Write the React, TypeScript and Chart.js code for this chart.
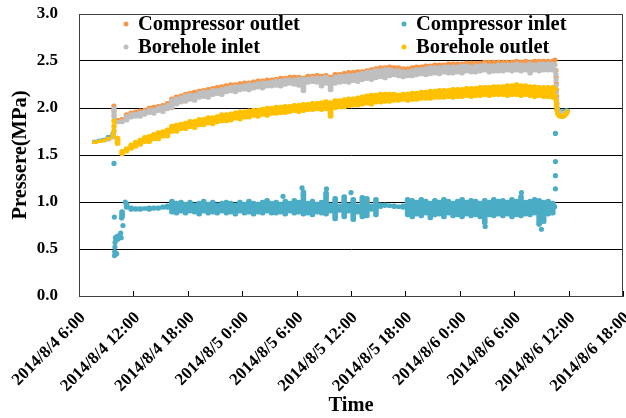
import React, { useEffect, useRef } from 'react';
import { Chart, registerables } from 'chart.js';

Chart.register(...registerables);

// ---------- data ----------
const SERIES_LABELS = ['Compressor outlet', 'Compressor inlet', 'Borehole inlet', 'Borehole outlet'];
const SERIES_COLORS = ['#F79646', '#4BACC6', '#BFBFBF', '#FFC000'];

// x axis: hours counted from 2014/8/4 0:00
const X_TICK_HOURS = [6, 12, 18, 24, 30, 36, 42, 48, 54, 60, 66];
const X_TICK_LABELS = [
  '2014/8/4 6:00', '2014/8/4 12:00', '2014/8/4 18:00', '2014/8/5 0:00',
  '2014/8/5 6:00', '2014/8/5 12:00', '2014/8/5 18:00', '2014/8/6 0:00',
  '2014/8/6 6:00', '2014/8/6 12:00', '2014/8/6 18:00',
];
const Y_TICK_VALUES = [0, 0.5, 1.0, 1.5, 2.0, 2.5, 3.0];
const Y_TICK_LABELS = ['0.0', '0.5', '1.0', '1.5', '2.0', '2.5', '3.0'];

// dense logging summarised per 30-minute window (min / max of the readings),
// first window centred on 2014/8/4 7:45
const WINDOW_START_HOUR = 7.75;
const WINDOW_STEP_HOURS = 0.5;

const compressorOutletMin = [
  1.62, 1.63, 1.64, 1.65, 1.67, 1.85, 1.85, 1.88, 1.91, 1.92,
  1.93, 1.94, 1.96, 1.96, 1.98, 1.98, 2.00, 2.03, 2.06, 2.07,
  2.09, 2.10, 2.10, 2.12, 2.13, 2.13, 2.15, 2.16, 2.16, 2.18,
  2.19, 2.19, 2.20, 2.21, 2.21, 2.22, 2.23, 2.23, 2.24, 2.25,
  2.25, 2.25, 2.26, 2.27, 2.27, 2.27, 2.24, 2.28, 2.29, 2.29,
  2.27, 2.28, 2.25, 2.28, 2.29, 2.30, 2.30, 2.31, 2.31, 2.32,
  2.33, 2.33, 2.34, 2.35, 2.35, 2.36, 2.36, 2.36, 2.35, 2.36,
  2.36, 2.37, 2.37, 2.37, 2.38, 2.38, 2.38, 2.39, 2.39, 2.39,
  2.39, 2.39, 2.40, 2.40, 2.40, 2.41, 2.41, 2.41, 2.41, 2.42,
  2.41, 2.42, 2.42, 2.42, 2.42, 2.42, 2.40, 2.42, 2.42, 2.42,
  2.42, 2.42,
];
const compressorOutletMax = [
  1.65, 1.66, 1.67, 1.68, 1.71, 1.89, 1.90, 1.95, 1.97, 1.98,
  1.99, 2.00, 2.02, 2.03, 2.04, 2.05, 2.07, 2.12, 2.14, 2.15,
  2.17, 2.18, 2.19, 2.20, 2.21, 2.22, 2.23, 2.24, 2.25, 2.26,
  2.27, 2.27, 2.28, 2.29, 2.29, 2.30, 2.31, 2.31, 2.32, 2.32,
  2.33, 2.34, 2.34, 2.35, 2.35, 2.35, 2.34, 2.36, 2.36, 2.37,
  2.36, 2.37, 2.35, 2.38, 2.38, 2.39, 2.40, 2.40, 2.41, 2.41,
  2.42, 2.43, 2.44, 2.45, 2.45, 2.46, 2.45, 2.45, 2.44, 2.44,
  2.45, 2.46, 2.46, 2.47, 2.47, 2.48, 2.48, 2.48, 2.49, 2.49,
  2.49, 2.49, 2.50, 2.50, 2.50, 2.50, 2.51, 2.51, 2.51, 2.51,
  2.51, 2.51, 2.51, 2.52, 2.51, 2.52, 2.51, 2.52, 2.52, 2.52,
  2.52, 2.52,
];

const compressorInletMin = [
  1.63, 1.64, 1.65, 1.67, 1.70, 0.58, 0.82, 0.92, 0.90, 0.90,
  0.90, 0.91, 0.90, 0.91, 0.91, 0.92, 0.92, 0.87, 0.86, 0.88,
  0.86, 0.88, 0.87, 0.85, 0.88, 0.86, 0.87, 0.86, 0.88, 0.86,
  0.87, 0.85, 0.88, 0.86, 0.87, 0.85, 0.87, 0.86, 0.88, 0.86,
  0.86, 0.87, 0.85, 0.88, 0.86, 0.87, 0.85, 0.86, 0.84, 0.87,
  0.86, 0.85, 0.88, 0.80, 0.89, 0.82, 0.88, 0.79, 0.87, 0.82,
  0.83, 0.90, 0.84, 0.93, 0.94, 0.94, 0.93, 0.93, 0.92, 0.84,
  0.82, 0.85, 0.83, 0.86, 0.81, 0.84, 0.85, 0.82, 0.86, 0.83,
  0.84, 0.82, 0.85, 0.83, 0.84, 0.82, 0.76, 0.84, 0.83, 0.85,
  0.83, 0.85, 0.82, 0.84, 0.83, 0.85, 0.84, 0.86, 0.74, 0.77,
  0.85, 0.86,
];
const compressorInletMax = [
  1.66, 1.67, 1.68, 1.71, 1.74, 0.66, 0.92, 1.00, 0.96, 0.95,
  0.95, 0.95, 0.96, 0.96, 0.96, 0.97, 0.98, 1.03, 1.01, 1.02,
  1.00, 1.02, 0.99, 1.01, 1.03, 1.00, 1.02, 0.99, 1.01, 1.02,
  1.01, 0.99, 1.02, 1.00, 1.03, 1.01, 1.00, 1.02, 1.04, 1.01,
  1.02, 1.00, 1.03, 1.01, 1.04, 1.02, 1.13, 1.01, 1.03, 1.00,
  1.02, 1.12, 0.99, 1.06, 0.98, 1.08, 0.99, 1.05, 0.98, 1.07,
  1.06, 0.98, 1.05, 0.99, 0.99, 0.98, 0.98, 0.97, 0.98, 1.05,
  1.04, 1.02, 1.05, 1.03, 1.01, 1.04, 1.02, 1.05, 1.03, 1.01,
  1.03, 1.05, 1.02, 1.04, 1.03, 1.01, 1.04, 1.02, 1.05, 1.03,
  1.04, 1.02, 1.05, 1.03, 1.08, 1.02, 1.03, 1.05, 1.04, 1.02,
  1.03, 1.01,
];

const boreholeInletMin = [
  1.62, 1.63, 1.64, 1.65, 1.67, 1.83, 1.83, 1.85, 1.88, 1.89,
  1.89, 1.91, 1.93, 1.92, 1.95, 1.94, 1.97, 1.98, 2.02, 2.04,
  2.05, 2.07, 2.06, 2.09, 2.10, 2.09, 2.12, 2.13, 2.12, 2.15,
  2.16, 2.15, 2.17, 2.18, 2.17, 2.19, 2.20, 2.19, 2.21, 2.21,
  2.22, 2.21, 2.23, 2.24, 2.23, 2.22, 2.16, 2.25, 2.26, 2.25,
  2.21, 2.24, 2.17, 2.24, 2.25, 2.26, 2.25, 2.27, 2.26, 2.28,
  2.29, 2.28, 2.30, 2.31, 2.30, 2.32, 2.33, 2.32, 2.31, 2.32,
  2.32, 2.33, 2.34, 2.33, 2.34, 2.35, 2.34, 2.36, 2.35, 2.35,
  2.36, 2.35, 2.37, 2.36, 2.36, 2.37, 2.38, 2.36, 2.37, 2.37,
  2.37, 2.38, 2.37, 2.38, 2.37, 2.38, 2.35, 2.38, 2.37, 2.38,
  2.38, 2.38,
];
const boreholeInletMax = [
  1.65, 1.66, 1.67, 1.68, 1.71, 1.87, 1.88, 1.93, 1.95, 1.96,
  1.97, 1.98, 2.00, 2.00, 2.02, 2.03, 2.05, 2.10, 2.12, 2.13,
  2.15, 2.16, 2.16, 2.18, 2.19, 2.19, 2.21, 2.21, 2.22, 2.23,
  2.24, 2.25, 2.25, 2.26, 2.27, 2.27, 2.28, 2.29, 2.29, 2.30,
  2.31, 2.31, 2.32, 2.32, 2.32, 2.33, 2.33, 2.33, 2.34, 2.34,
  2.34, 2.35, 2.33, 2.35, 2.36, 2.36, 2.37, 2.37, 2.38, 2.39,
  2.40, 2.41, 2.42, 2.42, 2.43, 2.43, 2.42, 2.42, 2.41, 2.41,
  2.42, 2.43, 2.43, 2.44, 2.45, 2.45, 2.45, 2.46, 2.46, 2.46,
  2.46, 2.47, 2.47, 2.46, 2.47, 2.47, 2.48, 2.47, 2.47, 2.48,
  2.48, 2.48, 2.48, 2.49, 2.48, 2.48, 2.49, 2.48, 2.49, 2.49,
  2.49, 2.49,
];

const boreholeOutletMin = [
  1.62, 1.63, 1.64, 1.66, 1.69, 1.60, 1.49, 1.52, 1.55, 1.57,
  1.59, 1.62, 1.62, 1.65, 1.65, 1.68, 1.68, 1.73, 1.73, 1.76,
  1.76, 1.78, 1.77, 1.80, 1.80, 1.82, 1.81, 1.83, 1.84, 1.84,
  1.85, 1.87, 1.86, 1.88, 1.88, 1.90, 1.89, 1.91, 1.90, 1.92,
  1.92, 1.93, 1.93, 1.94, 1.95, 1.94, 1.95, 1.96, 1.96, 1.97,
  1.96, 1.97, 1.89, 1.98, 1.99, 1.99, 2.00, 2.01, 2.01, 2.02,
  2.03, 2.02, 2.04, 2.04, 2.05, 2.05, 2.06, 2.06, 2.07, 2.06,
  2.07, 2.07, 2.08, 2.08, 2.08, 2.09, 2.09, 2.09, 2.10, 2.09,
  2.10, 2.10, 2.11, 2.10, 2.11, 2.11, 2.12, 2.11, 2.12, 2.12,
  2.12, 2.11, 2.12, 2.12, 2.11, 2.12, 2.11, 2.10, 2.11, 2.10,
  2.10, 2.09,
];
const boreholeOutletMax = [
  1.65, 1.66, 1.67, 1.69, 1.73, 1.70, 1.56, 1.59, 1.63, 1.66,
  1.68, 1.71, 1.72, 1.74, 1.76, 1.77, 1.79, 1.83, 1.84, 1.85,
  1.86, 1.88, 1.88, 1.90, 1.90, 1.92, 1.92, 1.93, 1.95, 1.95,
  1.96, 1.97, 1.98, 1.98, 1.99, 2.00, 2.00, 2.01, 2.02, 2.02,
  2.03, 2.03, 2.04, 2.04, 2.05, 2.05, 2.06, 2.06, 2.07, 2.07,
  2.08, 2.09, 2.08, 2.10, 2.10, 2.11, 2.12, 2.12, 2.13, 2.14,
  2.15, 2.16, 2.16, 2.17, 2.17, 2.17, 2.17, 2.16, 2.17, 2.17,
  2.18, 2.18, 2.19, 2.19, 2.20, 2.20, 2.21, 2.21, 2.21, 2.22,
  2.22, 2.22, 2.23, 2.23, 2.23, 2.24, 2.24, 2.24, 2.25, 2.25,
  2.25, 2.26, 2.26, 2.27, 2.26, 2.26, 2.25, 2.25, 2.24, 2.24,
  2.24, 2.24,
];

// isolated readings: start-up / shut-down transients and outliers, as [hour, MPa]
const compressorOutletReadings = [
  [9.85, 2.02], [9.86, 1.97], [9.87, 1.92],
  [58.5, 2.51], [58.6, 2.40], [58.62, 2.33], [58.64, 2.26], [58.66, 2.19], [58.68, 2.12],
  [58.7, 2.05], [58.75, 2.0], [58.9, 1.97], [59.1, 1.95], [59.4, 1.95], [59.7, 1.96],
];
const compressorInletReadings = [
  [9.86, 1.41], [9.9, 0.84], [9.92, 0.43], [9.94, 0.47], [9.96, 0.52], [9.98, 0.57],
  [10.02, 0.62], [10.1, 0.6], [10.15, 0.45], [10.4, 0.64], [10.6, 0.67], [10.65, 0.62],
  [10.7, 0.83], [10.85, 0.75], [11.1, 1.0],
  [28.5, 1.06], [30.6, 1.15], [33.3, 1.14], [36.0, 1.1], [50.8, 0.74], [54.8, 1.1], [57.0, 0.71],
  [58.45, 0.95], [58.55, 1.14], [58.55, 1.28], [58.55, 1.43], [58.55, 1.73],
  [58.7, 1.99], [58.85, 1.97], [59.1, 1.96], [59.4, 1.96], [59.7, 1.97], [59.85, 1.97],
];
const boreholeInletReadings = [
  [9.86, 1.99], [9.86, 1.95], [9.87, 1.91], [9.87, 1.87], [9.86, 1.8], [9.86, 1.75],
  [58.5, 2.46], [58.5, 2.40], [58.6, 2.36], [58.62, 2.3], [58.64, 2.24], [58.66, 2.17],
  [58.68, 2.1], [58.7, 2.04], [58.8, 1.98], [59.0, 1.95], [59.3, 1.94], [59.6, 1.95], [59.8, 1.96],
];
const boreholeOutletReadings = [
  [9.86, 1.76], [9.87, 1.81], [9.88, 1.86],
  [58.5, 2.20], [58.5, 2.13], [58.62, 2.08], [58.66, 2.03], [58.7, 1.98], [58.8, 1.94],
  [58.95, 1.92], [59.15, 1.91], [59.35, 1.91], [59.55, 1.92], [59.75, 1.94], [59.85, 1.96],
];

// ---------- drawing helpers ----------
const FONT_FAMILY = "'Times New Roman', 'Liberation Serif', serif";

function toWindows(mins: number[], maxs: number[]) {
  return mins.map((lo, i) => ({ x: WINDOW_START_HOUR + i * WINDOW_STEP_HOURS, y: [lo, maxs[i]] }));
}
function toReadings(list: number[][]) {
  return list.map(([x, y]) => ({ x, y }));
}

const frameLegendPlugin = {
  id: 'frameLegend',
  afterDraw(chart: any) {
    const { ctx, chartArea } = chart;
    const { left, right, top, bottom } = chartArea;
    const xScale = chart.scales.x;
    ctx.save();
    // inside tick marks on the time axis
    ctx.strokeStyle = '#000';
    ctx.lineWidth = 1;
    X_TICK_HOURS.forEach((h) => {
      const px = Math.round(xScale.getPixelForValue(h)) + 0.5;
      ctx.beginPath();
      ctx.moveTo(px, bottom);
      ctx.lineTo(px, bottom - 5);
      ctx.stroke();
    });
    // plot frame
    ctx.strokeStyle = '#404040';
    ctx.strokeRect(Math.round(left) + 0.5, Math.round(top) + 0.5, Math.round(right - left) - 1, Math.round(bottom - top));
    // legend, two columns inside the plot
    ctx.font = `bold 20.5px ${FONT_FAMILY}`;
    ctx.textBaseline = 'middle';
    ctx.textAlign = 'left';
    const cols = [left + 47, left + 325];
    const rows = [top + 10, top + 33];
    SERIES_LABELS.forEach((label, i) => {
      const mx = cols[i % 2];
      const my = rows[Math.floor(i / 2)];
      ctx.fillStyle = SERIES_COLORS[i];
      ctx.beginPath();
      ctx.arc(mx, my, 2.5, 0, Math.PI * 2);
      ctx.fill();
      ctx.fillStyle = '#000';
      ctx.fillText(label, mx + 12, my + 1);
    });
    ctx.restore();
  },
};

export default function App() {
  const canvasRef = useRef<HTMLCanvasElement>(null);

  useEffect(() => {
    const canvas = canvasRef.current;
    if (!canvas) return;
    const windows = [
      toWindows(compressorOutletMin, compressorOutletMax),
      toWindows(compressorInletMin, compressorInletMax),
      toWindows(boreholeInletMin, boreholeInletMax),
      toWindows(boreholeOutletMin, boreholeOutletMax),
    ];
    const readings = [
      toReadings(compressorOutletReadings),
      toReadings(compressorInletReadings),
      toReadings(boreholeInletReadings),
      toReadings(boreholeOutletReadings),
    ];
    const drawOrder = [4, 3, 2, 1]; // Borehole outlet drawn on top, as in the reference
    const datasets: any[] = [];
    SERIES_LABELS.forEach((label, i) => {
      datasets.push({
        type: 'bar',
        label,
        data: windows[i],
        backgroundColor: SERIES_COLORS[i],
        borderWidth: 0,
        borderSkipped: false,
        borderRadius: 2.5,
        barThickness: 5,
        grouped: false,
        order: drawOrder[i],
      });
      datasets.push({
        type: 'scatter',
        label,
        data: readings[i],
        backgroundColor: SERIES_COLORS[i],
        borderColor: SERIES_COLORS[i],
        borderWidth: 0,
        pointRadius: 2.6,
        pointHoverRadius: 2.6,
        showLine: false,
        order: drawOrder[i],
      });
    });

    const chart = new Chart(canvas, {
      type: 'scatter',
      data: { datasets },
      options: {
        responsive: false,
        animation: false,
        events: [],
        layout: { padding: { top: 14, right: 3, left: 0, bottom: 0 } },
        plugins: {
          legend: { display: false },
          tooltip: { enabled: false },
        },
        scales: {
          x: {
            type: 'linear',
            offset: false,
            min: X_TICK_HOURS[0],
            max: X_TICK_HOURS[X_TICK_HOURS.length - 1],
            afterFit: (scale: any) => {
              scale.height = 122;
              scale.paddingLeft = 0;
              scale.paddingRight = 0;
            },
            afterBuildTicks: (scale: any) => {
              scale.ticks = X_TICK_HOURS.map((v) => ({ value: v }));
            },
            ticks: {
              autoSkip: false,
              maxRotation: 45,
              minRotation: 45,
              padding: 4,
              labelOffset: 4,
              color: '#000',
              font: { family: FONT_FAMILY, size: 17, weight: 'bold' },
              callback: (v: any) => {
                const i = X_TICK_HOURS.indexOf(Number(v));
                return i >= 0 ? X_TICK_LABELS[i] : '';
              },
            },
            grid: { display: false, offset: false },
            border: { display: true, color: '#404040' },
            title: {
              display: true,
              text: 'Time',
              color: '#000',
              font: { family: FONT_FAMILY, size: 20.5, weight: 'bold' },
              padding: { top: 0, bottom: 0 },
            },
          },
          y: {
            type: 'linear',
            min: Y_TICK_VALUES[0],
            max: Y_TICK_VALUES[Y_TICK_VALUES.length - 1],
            afterFit: (scale: any) => {
              scale.width = 79;
              scale.paddingTop = 0;
              scale.paddingBottom = 0;
            },
            afterBuildTicks: (scale: any) => {
              scale.ticks = Y_TICK_VALUES.map((v) => ({ value: v }));
            },
            ticks: {
              padding: 21,
              color: '#000',
              font: { family: FONT_FAMILY, size: 17, weight: 'bold' },
              callback: (v: any) => {
                const i = Y_TICK_VALUES.indexOf(Number(v));
                return i >= 0 ? Y_TICK_LABELS[i] : '';
              },
            },
            grid: { color: '#000', lineWidth: 1, drawTicks: false },
            border: { display: true, color: '#404040' },
            title: {
              display: true,
              text: 'Pressere(MPa)',
              color: '#000',
              font: { family: FONT_FAMILY, size: 20.5, weight: 'bold' },
              padding: { top: 8, bottom: 0 },
            },
          },
        },
      },
      plugins: [frameLegendPlugin],
    } as any);
    return () => chart.destroy();
  }, []);

  return (
    <div style={{ position: 'absolute', left: 0, top: 0, width: 626, height: 418, background: '#fff' }}>
      <canvas ref={canvasRef} width={626} height={418} style={{ display: 'block' }} />
    </div>
  );
}
